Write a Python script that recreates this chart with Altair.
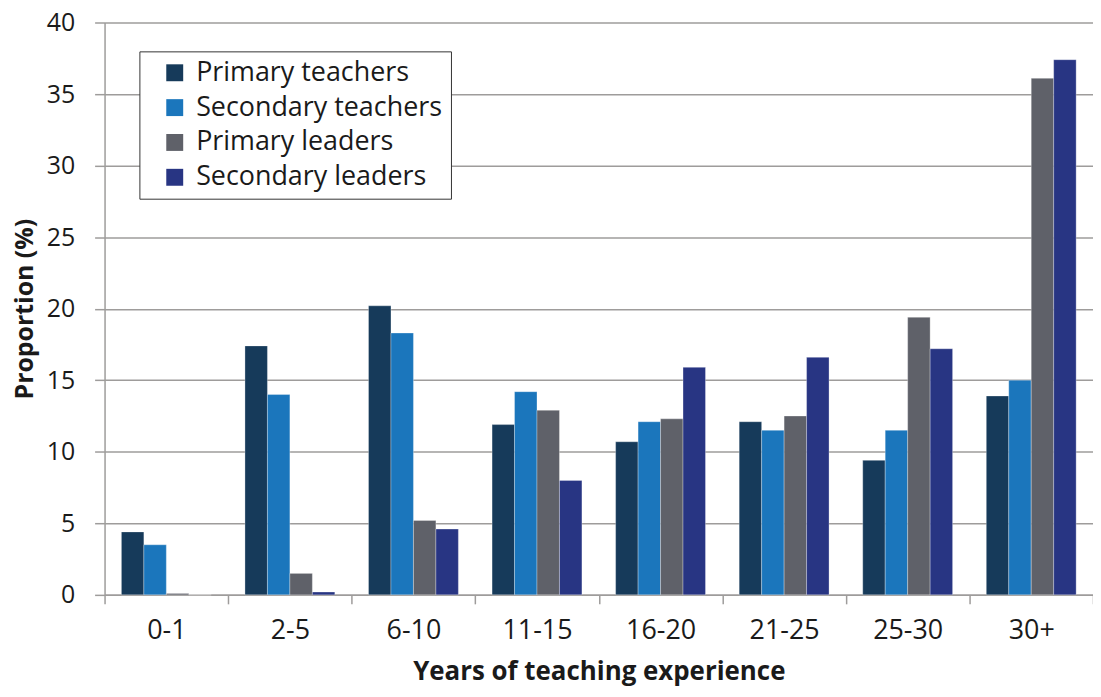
import altair as alt
import pandas as pd

categories = ["0-1", "2-5", "6-10", "11-15", "16-20", "21-25", "25-30", "30+"]
series = ["Primary teachers", "Secondary teachers", "Primary leaders", "Secondary leaders"]
primary_teachers = [4.4, 17.4, 20.2, 11.9, 10.7, 12.1, 9.4, 13.9]
secondary_teachers = [3.5, 14.0, 18.3, 14.2, 12.1, 11.5, 11.5, 15.0]
primary_leaders = [0.1, 1.5, 5.2, 12.9, 12.3, 12.5, 19.4, 36.1]
secondary_leaders = [0.0, 0.2, 4.6, 8.0, 15.9, 16.6, 17.2, 37.4]
colors = ["#163a5a", "#1b76bc", "#5f6169", "#283583"]
y_ticks = [0, 5, 10, 15, 20, 25, 30, 35, 40]

rows = []
for s, vals in zip(series, [primary_teachers, secondary_teachers, primary_leaders, secondary_leaders]):
    for c, v in zip(categories, vals):
        rows.append({"cat": c, "series": s, "value": v})
df = pd.DataFrame(rows)

FONT = "Open Sans"
GRID = "#9e9c9b"
TEXT = "#1a1a1a"

chart = alt.Chart(df).mark_bar(stroke="#ffffff", strokeWidth=0.6, strokeOpacity=0.5).encode(
    x=alt.X("cat:N", sort=categories,
            scale=alt.Scale(paddingInner=0, paddingOuter=0),
            axis=alt.Axis(title="Years of teaching experience", labelAngle=0, tickBand="extent",
                          ticks=True, tickSize=9, tickColor=GRID, tickWidth=1.5,
                          domainColor=GRID, domainWidth=1.5, grid=False,
                          labelFont=FONT, labelFontSize=27, labelColor=TEXT, labelPadding=14,
                          titleFont=FONT, titleFontSize=26, titleFontWeight="bold", titleColor=TEXT,
                          titleBaseline="middle", titleY=77)),
    xOffset=alt.XOffset("series:N", sort=series,
                        scale=alt.Scale(domain=series, paddingInner=0, paddingOuter=0.75)),
    y=alt.Y("value:Q", scale=alt.Scale(domain=[0, 40], nice=False),
            axis=alt.Axis(title="Proportion (%)", values=y_ticks, grid=True, gridColor=GRID, gridWidth=1.5,
                          ticks=True, tickSize=10, tickColor=GRID, tickWidth=1.5,
                          domainColor=GRID, domainWidth=1.5,
                          labelFont=FONT, labelFontSize=25, labelColor=TEXT, labelPadding=20,
                          titleFont=FONT, titleFontSize=25, titleFontWeight="bold", titleColor=TEXT,
                          titleBaseline="middle", titleX=-80, titleAngle=270)),
    color=alt.Color("series:N", sort=series,
                    scale=alt.Scale(domain=series, range=colors),
                    legend=alt.Legend(title=None, orient="none", legendX=35, legendY=29,
                                      symbolType="square", symbolSize=289, symbolStrokeWidth=0,
                                      symbolOffset=14, labelLimit=600,
                                      labelFont=FONT, labelFontSize=27, labelColor=TEXT,
                                      labelOffset=8, rowPadding=7, padding=8,
                                      strokeColor="#333333", fillColor="#ffffff")),
).properties(
    width=993, height=575,
    padding={"left": 97, "top": 13, "right": 0, "bottom": 93},
    autosize=alt.AutoSizeParams(type="none"),
).configure_view(stroke=None)

chart.save("out.html", embed_options={"renderer": "svg", "actions": False})
